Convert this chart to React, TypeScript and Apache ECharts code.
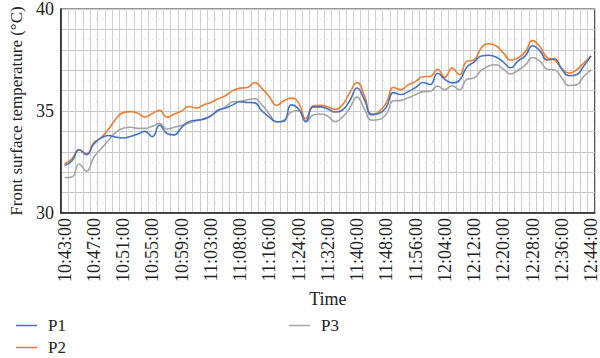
import React, { useEffect, useRef } from "react";
import * as echarts from "echarts";

const tickLabels = [
  "10:43:00", "10:47:00", "10:51:00", "10:55:00", "10:59:00", "11:03:00", "11:08:00",
  "11:16:00", "11:24:00", "11:32:00", "11:40:00", "11:48:00", "11:56:00", "12:04:00",
  "12:12:00", "12:20:00", "12:28:00", "12:36:00", "12:44:00",
];

const p1 = [
  32.33, 32.55, 33.1, 32.86, 33.38, 33.68, 33.8, 33.72, 33.68, 33.75,
  33.87, 34.0, 33.74, 34.3, 33.9, 33.83, 34.2, 34.48, 34.55, 34.6,
  34.75, 35.05, 35.15, 35.3, 35.45, 35.42, 35.4, 35.0, 34.7, 34.47,
  34.5, 35.3, 35.1, 34.5, 35.2, 35.2, 35.1, 34.95, 35.05, 35.5,
  36.13, 35.55, 34.84, 34.88, 35.2, 35.9, 35.81, 35.95, 36.15, 36.4,
  36.3, 36.85, 36.55, 36.38, 36.5, 37.15, 37.4, 37.7, 37.73, 37.65,
  37.4, 37.12, 37.45, 37.7, 38.2, 37.95, 37.5, 37.55, 37.05, 36.73,
  36.78, 37.2, 37.7,
];

const p2 = [
  32.4, 32.65, 33.1, 32.9, 33.45, 33.7, 34.1, 34.6, 34.92, 34.97,
  34.9, 34.7, 34.88, 35.03, 34.7, 34.85, 35.0, 35.22, 35.15, 35.3,
  35.42, 35.6, 35.75, 36.0, 36.12, 36.15, 36.4, 36.1, 35.7, 35.28,
  35.5, 35.63, 35.4, 34.62, 35.25, 35.28, 35.2, 35.08, 35.3, 35.9,
  36.4, 35.75, 34.8, 34.97, 35.4, 36.15, 36.05, 36.28, 36.45, 36.68,
  36.7, 37.05, 36.65, 37.1, 36.78, 37.43, 37.5, 38.1, 38.3, 38.2,
  37.85, 37.5, 37.6, 37.9, 38.45, 38.15, 37.62, 37.5, 37.08, 36.85,
  37.02, 37.35, 37.7,
];

const p3 = [
  31.73, 31.76, 32.4, 32.05, 32.73, 33.15, 33.55, 33.95, 34.15, 34.2,
  34.15, 34.15, 34.25, 34.38, 34.12, 34.2, 34.3, 34.4, 34.52, 34.62,
  34.78, 35.0, 35.2, 35.45, 35.48, 35.55, 35.6, 35.3, 34.85, 34.47,
  34.55, 34.95, 35.02, 34.45, 34.8, 34.85, 34.75, 34.48, 34.7, 35.15,
  35.68, 35.1, 34.55, 34.58, 34.85, 35.5, 35.52, 35.65, 35.8, 35.95,
  35.97, 36.22, 36.05, 36.24, 36.05, 36.55, 36.62, 37.0, 37.2, 37.27,
  37.05, 36.82, 37.0, 37.25, 37.62, 37.45, 37.05, 37.02, 36.62, 36.25,
  36.28, 36.7, 37.02,
];

const seriesNames = ["P1", "P2", "P3"];
const colors = ["#4472C4", "#ED7D31", "#A5A5A5"];
const labelStep = 4;

export default function App() {
  const ref = useRef<HTMLDivElement>(null);
  useEffect(() => {
    if (!ref.current) return;
    const chart = echarts.init(ref.current, null, { renderer: "svg" });
    const categories = p1.map((_, i) => String(i));
    const font = "'Liberation Serif', 'Times New Roman', serif";
    const dataSets = [p1, p2, p3];
    const legendText = { fontFamily: font, fontSize: 17, color: "#222", padding: [0, 0, 0, 6] };
    const legendBase = { icon: "rect", itemWidth: 21, itemHeight: 1.5, padding: 0, textStyle: legendText };
    chart.setOption({
      animation: false,
      textStyle: { fontFamily: font },
      grid: {
        left: 49,
        right: 3,
        top: 7,
        bottom: 145,
        containLabel: false,
        show: true,
        borderColor: "#333",
        borderWidth: 1.2,
      },
      legend: [
        { ...legendBase, data: ["P1"], left: 16, top: 317 },
        { ...legendBase, data: ["P2"], left: 16, top: 339 },
        { ...legendBase, data: ["P3"], left: 289, top: 317 },
      ],
      xAxis: [
        {
          type: "category",
          data: categories,
          boundaryGap: true,
          name: "Time",
          nameLocation: "middle",
          nameGap: 76,
          nameTextStyle: { fontFamily: font, fontSize: 18, color: "#222" },
          axisLine: { show: true, lineStyle: { color: "#222", width: 1.5 } },
          axisTick: { show: false },
          axisLabel: {
            interval: labelStep - 1,
            rotate: 90,
            margin: 5,
            fontFamily: font,
            fontSize: 18,
            color: "#222",
            formatter: (v: string) => {
              const i = Number(v);
              return i % labelStep === 0 ? tickLabels[i / labelStep] : "";
            },
          },
          splitLine: { show: true, interval: 0, lineStyle: { color: "#cfcfcf", width: 1 } },
        },
        {
          type: "value",
          min: 0,
          max: p1.length,
          interval: 1,
          show: false,
          axisLabel: { show: false },
          splitLine: { show: false },
          minorTick: { show: false, splitNumber: 2 },
          minorSplitLine: { show: true, lineStyle: { color: "#d8d8d8", width: 1, type: [1, 6] } },
        },
      ],
      yAxis: {
        type: "value",
        min: 30,
        max: 40,
        interval: 1,
        name: "Front surface temperature (°C)",
        nameLocation: "middle",
        nameGap: 29,
        nameTextStyle: { fontFamily: font, fontSize: 17, color: "#222" },
        axisLine: { show: true, lineStyle: { color: "#222", width: 1.5 } },
        axisTick: { show: false },
        axisLabel: {
          margin: 7,
          fontFamily: font,
          fontSize: 18,
          color: "#222",
          formatter: (v: number) => (v % 5 === 0 ? String(v) : ""),
        },
        splitLine: { show: true, lineStyle: { color: "#c8c8c8", width: 1 } },
        minorTick: { show: false, splitNumber: 2 },
        minorSplitLine: { show: true, lineStyle: { color: "#dcdcdc", width: 1, type: [1, 6] } },
      },
      series: seriesNames.map((name, k) => ({
        name,
        type: "line",
        data: dataSets[k],
        smooth: 0.5,
        symbol: "none",
        xAxisIndex: 0,
        lineStyle: { color: colors[k], width: 1.6 },
        itemStyle: { color: colors[k] },
        z: k === 1 ? 2 : k === 0 ? 3 : 1,
      })),
    });
    return () => chart.dispose();
  }, []);
  return <div ref={ref} style={{ width: 600, height: 358, position: "absolute", left: 0, top: 0 }} />;
}
